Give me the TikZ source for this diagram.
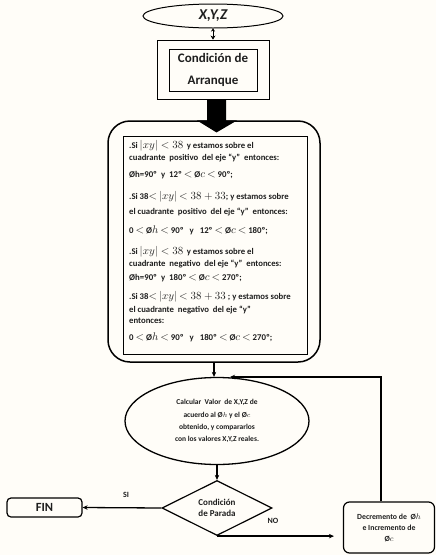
\documentclass[tikz,border=0pt]{standalone}
\usepackage{fontspec}
\setmainfont{Carlito}
\usetikzlibrary{shapes.geometric,arrows.meta,calc}
\definecolor{bg}{RGB}{255,253,248}
\definecolor{ink}{RGB}{30,30,30}
\newcommand{\mth}[1]{{\fontsize{10.5}{10}\selectfont$#1$}}
\tikzset{
  ln/.style={font=\fontsize{8.7}{9}\selectfont\bfseries, text=ink, inner sep=0pt, anchor=west},
  lnb/.style={font=\fontsize{8.8}{9}\selectfont\bfseries, text=ink, inner sep=0pt, anchor=west},
  conn/.style={line width=1.3pt, -{Stealth[length=5pt,width=4.5pt]}},
  small/.style={font=\fontsize{8}{9}\selectfont\bfseries, text=ink, inner sep=0pt, align=center},
}
\begin{document}
\begin{tikzpicture}[x=1pt,y=-1pt]
\fill[bg] (0,0) rectangle (436,555);
\useasboundingbox (0,0) rectangle (436,555);

% top ellipse
\node[ellipse, draw, line width=1pt, minimum width=140pt, minimum height=24pt, inner sep=0pt,
      font=\fontsize{15}{16}\selectfont\bfseries\itshape, text=ink] (xyz) at (213,16) {X,Y,Z};
% start condition box
\node[draw, line width=0.9pt, minimum width=112pt, minimum height=59pt] (arrOut) at (213,69.5) {};
\node[draw, line width=0.7pt, minimum width=88pt, minimum height=42pt, align=center,
      font=\fontsize{13}{22}\selectfont\bfseries, text=ink] (arrIn) at (213,70) {Condición de\\Arranque};
\draw[line width=1pt, {Stealth[length=3pt,width=4pt]}-{Stealth[length=4pt,width=5pt]}] (xyz.south) -- (arrOut.north);

% big rounded box
\node[draw, line width=1.5pt, rounded corners=22pt, minimum width=212pt, minimum height=241pt] (big) at (214,241.5) {};
\node[draw, line width=0.8pt, minimum width=184pt, minimum height=218pt] (inner) at (215,245) {};

% block arrow
\fill[black] ($(arrOut.south)+(-6,0)$) -- ($(arrOut.south)+(13,0)$) -- ($(arrOut.south)+(13,21)$)
  -- ($(arrOut.south)+(24,21)$) -- ($(arrOut.south)+(3.5,33)$) -- ($(arrOut.south)+(-16,21)$)
  -- ($(arrOut.south)+(-6,21)$) -- cycle;

% text lines
\node[ln]  (l1)  at (129,146) {.Si \mth{|xy| < 38} \,y estamos sobre el};
\node[ln]  (l2)  at (129,158) {cuadrante \ positivo \ del eje “y” \ entonces:};
\node[lnb] (l3)  at (129,175) {Øh=90º \ y \ 12º \mth{<} Ø\mth{c} \mth{<} 90º;};
\node[ln]  (l4)  at (129,197) {.Si 38\mth{<} \mth{|xy|} \mth{<38+33}; y estamos sobre};
\node[ln]  (l5)  at (129,212) {el cuadrante \ positivo \ del eje “y” \ entonces:};
\node[lnb] (l6)  at (129,230) {0 \mth{<} Ø\mth{h} \mth{<} 90º \ \ y \ \ 12º \mth{<} Ø\mth{c} \mth{<} 180º;};
\node[ln]  (l7)  at (129,252) {.Si \mth{|xy| < 38} \,y estamos sobre el};
\node[ln]  (l8)  at (129,264) {cuadrante \ negativo \ del eje “y” \ entonces:};
\node[lnb] (l9)  at (129,278) {Øh=90º \ y \ 180º \mth{<} Ø\mth{c} \mth{<} 270º;};
\node[ln]  (l10) at (129,297) {.Si 38\mth{<} \mth{|xy|} \mth{<38+33} ; y estamos sobre};
\node[ln]  (l11) at (129,310) {el cuadrante \ negativo \ del eje “y”};
\node[ln]  (l12) at (129,321) {entonces:};
\node[lnb] (l13) at (129,337) {0 \mth{<} Ø\mth{h} \mth{<} 90º \ \ y \ \ 180º \mth{<} Ø\mth{c} \mth{<} 270º;};

% calculation ellipse
\node[ellipse, draw, line width=1.3pt, minimum width=184pt, minimum height=87pt, inner sep=0pt,
      font=\fontsize{7.5}{12.2}\selectfont\bfseries, text=ink, align=center] (calc) at (217,421)
  {Calcular \ Valor \ de X,Y,Z de\\acuerdo al Ø$h$ y el Ø$c$\\obtenido, y compararlos\\con los valores X,Y,Z reales.};
\draw[conn] (big.south) -- (big.south |- calc.north);

% stop condition diamond
\node[diamond, draw, line width=1.2pt, minimum width=110pt, minimum height=52pt, inner sep=0pt,
      font=\fontsize{9}{11.5}\selectfont\bfseries, text=ink, align=center] (dia) at (217,508)
  {Condición\\de Parada};
\draw[conn] (calc.south) -- (dia.north);

% FIN
\node[draw, line width=1.2pt, rounded corners=4pt, minimum width=75pt, minimum height=19pt,
      font=\fontsize{12.5}{14}\selectfont\bfseries, text=ink] (fin) at (44.5,507.5) {FIN};
\draw[conn] (dia.west) -- (fin.east);
\node[small] (si) at (126,495) {SI};

% Decremento box
\node[draw, line width=1.2pt, rounded corners=6pt, minimum width=91pt, minimum height=51pt,
      font=\fontsize{7.8}{11}\selectfont\bfseries, text=ink, align=center] (dec) at (389,527.5)
  {Decremento de \ Ø$h$\\e Incremento de\\Ø$c$};
\draw[conn, shorten >=9pt] (dia.south) -- (dia.south -| dec.west);
\node[small] (no) at (273,521) {NO};

% feedback
\coordinate (fb) at (381,377);
\coordinate (fbEnd) at (230,377);
\draw[conn] (dec.north -| fb) -- (fb) -- (fbEnd);
\end{tikzpicture}
\end{document}
